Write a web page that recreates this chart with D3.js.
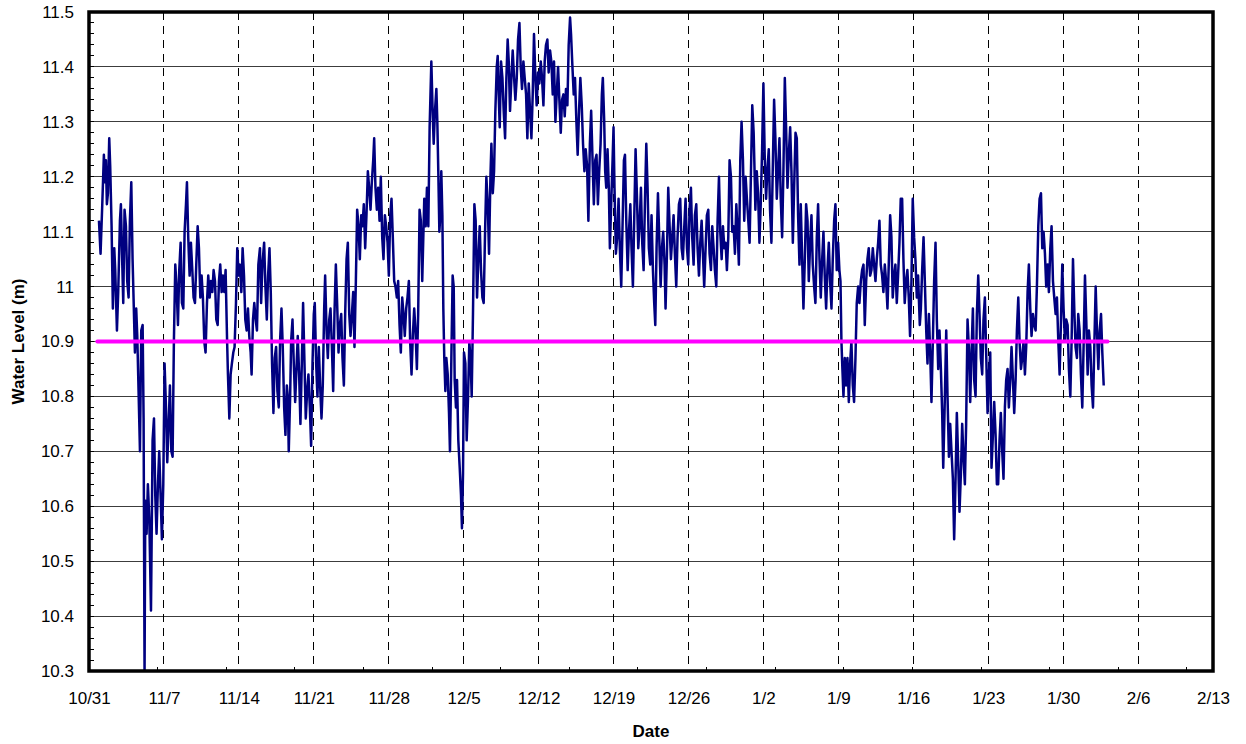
<!DOCTYPE html>
<html>
<head>
<meta charset="utf-8">
<script src="https://cdn.jsdelivr.net/npm/d3@7"></script>
<style>
  body { margin: 0; background: #fff; }
  svg { display: block; }
  text { font-family: Arial, "Liberation Sans", sans-serif; fill: #000; }
</style>
</head>
<body>
<svg id="chart" width="1246" height="744"></svg>
<script>
// Weekly date labels along the x axis (days since 10/31)
const dateLabels = ["10/31", "11/7", "11/14", "11/21", "11/28", "12/5", "12/12",
  "12/19", "12/26", "1/2", "1/9", "1/16", "1/23", "1/30", "2/6", "2/13"];
const dayTicks = dateLabels.map((d, i) => i * 7);

// Water level axis ticks
const levelTicks = [10.3, 10.4, 10.5, 10.6, 10.7, 10.8, 10.9, 11.0, 11.1, 11.2, 11.3, 11.4, 11.5];
const levelLabels = ["10.3", "10.4", "10.5", "10.6", "10.7", "10.8", "10.9", "11", "11.1", "11.2", "11.3", "11.4", "11.5"];

// Reference level and the period it covers (days since 10/31)
const referenceLevel = 10.9;
const referenceSpan = [0.78, 95.15];

// Recorded water level: time in days since 10/31, level in metres
const dayOffset = [
  0.93, 1.08, 1.24, 1.39, 1.49, 1.58, 1.67, 1.77, 1.89, 1.98, 2.11, 2.23, 2.36, 2.45, 2.61, 2.73, 2.89, 2.98, 3.11, 3.20,
  3.32, 3.45, 3.57, 3.70, 3.82, 3.95, 4.07, 4.20, 4.29, 4.41, 4.51, 4.63, 4.76, 4.88, 5.01, 5.10, 5.19, 5.26, 5.38, 5.50,
  5.63, 5.79, 5.94, 6.07, 6.19, 6.31, 6.44, 6.56, 6.69, 6.81, 6.94, 7.06, 7.19, 7.31, 7.44, 7.56, 7.69, 7.81, 7.93, 8.06,
  8.18, 8.31, 8.43, 8.56, 8.68, 8.81, 8.93, 9.06, 9.15, 9.27, 9.40, 9.52, 9.65, 9.77, 9.90, 10.02, 10.15, 10.27, 10.40, 10.52,
  10.64, 10.77, 10.89, 11.02, 11.14, 11.27, 11.39, 11.52, 11.64, 11.77, 11.89, 12.02, 12.14, 12.26, 12.39, 12.51, 12.64, 12.76, 12.89, 12.98,
  13.11, 13.23, 13.35, 13.48, 13.60, 13.73, 13.85, 13.98, 14.10, 14.23, 14.35, 14.48, 14.60, 14.73, 14.85, 14.97, 15.10, 15.19, 15.32, 15.44,
  15.57, 15.69, 15.82, 15.97,
  16.08, 16.20, 16.36, 16.48, 16.61, 16.73, 16.86, 16.98, 17.10, 17.23, 17.35, 17.48, 17.60, 17.73, 17.85, 17.98, 18.10, 18.23, 18.35, 18.48,
  18.57, 18.66, 18.79, 18.88, 19.01, 19.13, 19.26, 19.38, 19.50, 19.63, 19.75, 19.88, 20.00, 20.13, 20.25, 20.38, 20.50, 20.63, 20.75, 20.88,
  21.00, 21.09, 21.22, 21.34, 21.47, 21.59, 21.72, 21.84, 21.97, 22.06, 22.19, 22.31, 22.44, 22.56, 22.69, 22.81, 22.93, 23.06, 23.18, 23.31,
  23.43, 23.56, 23.68, 23.81, 23.93, 24.06, 24.18, 24.31, 24.43, 24.56, 24.68, 24.80, 24.93, 25.05, 25.18, 25.30, 25.43, 25.55, 25.67, 25.80,
  25.92, 26.05, 26.17, 26.30, 26.42, 26.55, 26.64, 26.76, 26.89, 27.01, 27.14, 27.26, 27.39, 27.51, 27.64, 27.76, 27.89, 28.01, 28.14, 28.26,
  28.38, 28.51, 28.63, 28.76, 28.88, 29.01, 29.13, 29.26, 29.38, 29.50, 29.63, 29.75, 29.88, 30.00, 30.13, 30.25, 30.38, 30.50, 30.63, 30.75,
  30.88, 31.00, 31.13,
  31.32, 31.45, 31.57, 31.70, 31.82, 31.98, 32.10, 32.20, 32.32, 32.45, 32.54, 32.63, 32.73, 32.82, 32.91, 33.01, 33.10, 33.19, 33.29, 33.38,
  33.51, 33.63, 33.72, 33.85, 33.97, 34.07, 34.16, 34.28, 34.38, 34.50, 34.63, 34.75, 34.84, 34.94, 35.03, 35.16, 35.28, 35.41, 35.53, 35.66,
  35.75, 35.87, 36.00, 36.12, 36.25, 36.37, 36.50, 36.62, 36.75, 36.87, 37.00, 37.12, 37.25, 37.37, 37.50, 37.59, 37.72, 37.84, 37.96, 38.09,
  38.18, 38.27, 38.37, 38.49, 38.62, 38.74, 38.87, 38.99, 39.11, 39.21, 39.33, 39.46, 39.58, 39.71, 39.83, 39.96, 40.08, 40.21, 40.33, 40.45,
  40.58, 40.70, 40.83, 40.95, 41.08, 41.20, 41.33, 41.45, 41.57, 41.70, 41.82, 41.95, 42.07, 42.20, 42.32, 42.45, 42.57, 42.69, 42.82, 42.94,
  43.07, 43.19, 43.32, 43.44, 43.57, 43.69, 43.82, 43.94, 44.07, 44.19, 44.32, 44.44, 44.56, 44.69, 44.81, 44.94, 45.03, 45.16, 45.28, 45.40,
  45.53, 45.65, 45.78, 45.90, 46.03, 46.15, 46.28, 46.40, 46.53, 46.65,
  46.79, 46.91, 47.04, 47.16, 47.29, 47.41, 47.54, 47.66, 47.79, 47.91, 48.00, 48.13, 48.22, 48.32, 48.44, 48.56, 48.66, 48.78, 48.91, 49.00,
  49.09, 49.22, 49.34, 49.47, 49.59, 49.72, 49.84, 49.97, 50.07, 50.19, 50.32, 50.44, 50.57, 50.68, 50.81, 50.93, 51.06, 51.18, 51.31, 51.43,
  51.56, 51.68, 51.81, 51.93, 52.06, 52.18, 52.30, 52.43, 52.55, 52.68, 52.80, 52.90, 53.02, 53.15, 53.27, 53.40, 53.52, 53.64, 53.77, 53.86,
  53.99, 54.11, 54.24, 54.36, 54.49, 54.61, 54.73, 54.86, 54.98, 55.11, 55.23, 55.36, 55.48, 55.61, 55.73, 55.86, 55.98, 56.10, 56.23, 56.35,
  56.48, 56.60, 56.73, 56.85, 56.98, 57.10, 57.23, 57.35, 57.47, 57.60, 57.72, 57.85, 57.97, 58.10, 58.22, 58.35, 58.47, 58.60, 58.72, 58.85,
  58.97, 59.10, 59.22, 59.35, 59.47, 59.59, 59.72, 59.84, 59.97, 60.09, 60.22, 60.34, 60.47, 60.59, 60.71, 60.84, 60.96, 61.09, 61.21, 61.34,
  61.46, 61.59, 61.71, 61.84, 61.96, 62.09, 62.21,
  62.25, 62.38, 62.50, 62.63, 62.75, 62.88, 63.00, 63.12, 63.25, 63.37, 63.50, 63.62, 63.75, 63.87, 64.00, 64.12, 64.25, 64.37, 64.50, 64.62,
  64.75, 64.87, 65.00, 65.12, 65.25, 65.37, 65.50, 65.62, 65.75, 65.87, 66.00, 66.12, 66.24, 66.37, 66.49, 66.62, 66.74, 66.87, 66.99, 67.12,
  67.24, 67.37, 67.49, 67.61, 67.74, 67.86, 67.99, 68.11, 68.24, 68.36, 68.49, 68.61, 68.73, 68.86, 68.98, 69.11, 69.23, 69.36, 69.48, 69.61,
  69.73, 69.85, 69.98, 70.10, 70.20, 70.29, 70.38, 70.48, 70.60, 70.73, 70.85, 70.98, 71.10, 71.22, 71.35, 71.47, 71.60, 71.72, 71.85, 71.97,
  72.10, 72.22, 72.35, 72.47, 72.60, 72.72, 72.84, 72.97, 73.09, 73.22, 73.34, 73.47, 73.59, 73.72, 73.84, 73.96, 74.09, 74.21, 74.34, 74.46,
  74.59, 74.71, 74.84, 74.96, 75.08, 75.21, 75.33, 75.46, 75.58, 75.71, 75.83, 75.96, 76.08, 76.20, 76.33, 76.45, 76.58, 76.70, 76.83, 76.95,
  77.08, 77.20, 77.33, 77.45, 77.61,
  77.71, 77.83, 77.96, 78.08, 78.21, 78.33, 78.46, 78.58, 78.70, 78.83, 78.95, 79.08, 79.20, 79.33, 79.45, 79.58, 79.70, 79.80, 79.92, 80.08,
  80.20, 80.33, 80.45, 80.57, 80.70, 80.82, 80.95, 81.07, 81.20, 81.32, 81.45, 81.57, 81.69, 81.82, 81.94, 82.07, 82.19, 82.32, 82.44, 82.57,
  82.69, 82.82, 82.94, 83.07, 83.19, 83.31, 83.44, 83.56, 83.69, 83.81, 83.94, 84.06, 84.19, 84.31, 84.44, 84.56, 84.69, 84.81, 84.93, 85.06,
  85.18, 85.31, 85.43, 85.56, 85.68, 85.81, 85.93, 86.06, 86.18, 86.31, 86.43, 86.56, 86.68, 86.81, 86.93, 87.06, 87.18, 87.30, 87.43, 87.55,
  87.68, 87.80, 87.93, 88.05, 88.18, 88.30, 88.43, 88.55, 88.68, 88.80, 88.93, 89.05, 89.17, 89.30, 89.42, 89.55, 89.67, 89.80, 89.92, 90.05,
  90.17, 90.30, 90.42, 90.55, 90.67, 90.79, 90.92, 91.04, 91.17, 91.29, 91.42, 91.54, 91.67, 91.79, 91.92, 92.04, 92.16, 92.29, 92.41, 92.54,
  92.66, 92.79, 92.91, 93.04, 93.16, 93.29, 93.41, 93.54, 93.66, 93.79, 93.91, 94.04, 94.16, 94.29, 94.41, 94.54, 94.66, 94.79
];

const level = [
  11.12, 11.06, 11.15, 11.24, 11.19, 11.23, 11.15, 11.17, 11.27, 11.22, 11.11, 10.96, 11.07, 11.03, 10.92, 10.99, 11.12, 11.15, 11.04, 10.97,
  11.14, 11.11, 11.01, 10.98, 11.12, 11.19, 11.05, 10.95, 10.88, 10.96, 10.91, 10.81, 10.70, 10.92, 10.93, 10.76, 10.30, 10.61, 10.55, 10.64,
  10.58, 10.41, 10.72, 10.76, 10.62, 10.55, 10.64, 10.70, 10.62, 10.54, 10.64, 10.86, 10.78, 10.68, 10.75, 10.82, 10.70, 10.69, 10.90, 11.04,
  11.00, 10.93, 11.03, 11.08, 10.97, 10.96, 11.10, 11.15, 11.19, 11.09, 11.02, 11.08, 11.03, 10.98, 10.97, 11.04, 11.11, 11.07, 10.98, 11.02,
  10.98, 10.90, 10.88, 10.97, 11.02, 10.98, 11.01, 10.99, 11.03, 11.01, 10.94, 10.93, 11.01, 11.04, 10.99, 11.02, 10.99, 11.03, 10.91, 10.84,
  10.76, 10.84, 10.86, 10.88, 10.89, 10.97, 11.07, 11.02, 11.04, 10.99, 11.07, 11.02, 10.94, 10.92, 10.96, 10.91, 10.88, 10.84, 10.94, 10.97,
  10.94, 10.92, 11.04, 11.07,
  10.97, 11.04, 11.08, 11.00, 10.94, 11.02, 11.07, 10.99, 10.86, 10.77, 10.87, 10.89, 10.81, 10.78, 10.90, 10.96, 10.89, 10.78, 10.73, 10.82,
  10.80, 10.70, 10.80, 10.90, 10.94, 10.86, 10.79, 10.85, 10.91, 10.84, 10.75, 10.86, 10.97, 10.86, 10.76, 10.81, 10.84, 10.78, 10.71, 10.86,
  10.95, 10.97, 10.86, 10.80, 10.89, 10.82, 10.76, 10.82, 10.96, 11.02, 10.92, 10.87, 10.94, 10.96, 10.89, 10.81, 10.95, 11.04, 10.97, 10.88,
  10.93, 10.95, 10.87, 10.82, 10.95, 11.05, 11.08, 10.95, 10.91, 10.95, 10.99, 10.89, 11.01, 11.14, 11.11, 11.05, 11.13, 11.11, 11.15, 11.07,
  11.13, 11.21, 11.18, 11.14, 11.19, 11.23, 11.27, 11.18, 11.14, 11.18, 11.12, 11.20, 11.09, 11.05, 11.13, 11.11, 11.08, 11.02, 11.13, 11.16,
  11.09, 11.01, 11.00, 10.98, 11.01, 10.93, 10.88, 10.98, 10.95, 10.91, 10.96, 10.98, 11.01, 10.90, 10.84, 10.91, 10.96, 10.92, 10.85, 10.95,
  11.14, 11.12, 11.01,
  11.16, 11.11, 11.18, 11.11, 11.29, 11.41, 11.32, 11.26, 11.32, 11.36, 11.30, 11.21, 11.10, 11.13, 11.21, 11.13, 10.96, 10.87, 10.81, 10.87,
  10.84, 10.77, 10.70, 10.87, 11.02, 11.00, 10.83, 10.78, 10.83, 10.72, 10.67, 10.62, 10.56, 10.66, 10.88, 10.86, 10.72, 10.80, 10.90, 10.86,
  10.80, 10.95, 11.15, 11.12, 10.98, 11.05, 11.11, 11.03, 10.98, 10.97, 11.10, 11.20, 11.15, 11.06, 11.20, 11.26, 11.17, 11.21, 11.32, 11.40,
  11.42, 11.35, 11.29, 11.41, 11.38, 11.32, 11.27, 11.38, 11.45, 11.41, 11.32, 11.38, 11.43, 11.38, 11.34, 11.38, 11.45, 11.48, 11.40, 11.36,
  11.41, 11.38, 11.35, 11.27, 11.37, 11.32, 11.27, 11.35, 11.46, 11.38, 11.33, 11.39, 11.37, 11.41, 11.38, 11.33, 11.41, 11.44, 11.45, 11.39,
  11.43, 11.41, 11.35, 11.41, 11.30, 11.35, 11.40, 11.34, 11.28, 11.34, 11.35, 11.31, 11.36, 11.33, 11.44, 11.49, 11.46, 11.40, 11.35, 11.38,
  11.30, 11.24, 11.32, 11.38, 11.33, 11.26, 11.21, 11.25, 11.22, 11.12,
  11.26, 11.32, 11.23, 11.15, 11.23, 11.24, 11.15, 11.21, 11.26, 11.35, 11.38, 11.30, 11.21, 11.18, 11.25, 11.18, 11.07, 11.15, 11.23, 11.29,
  11.18, 11.06, 11.09, 11.16, 11.07, 11.00, 11.11, 11.23, 11.24, 11.12, 11.03, 11.10, 11.15, 11.07, 11.00, 11.12, 11.25, 11.17, 11.07, 11.11,
  11.18, 11.08, 11.03, 11.15, 11.26, 11.18, 11.07, 11.04, 11.13, 11.03, 10.97, 10.93, 11.07, 11.17, 11.09, 11.00, 11.07, 11.10, 11.04, 10.96,
  11.06, 11.18, 11.11, 11.05, 11.09, 11.13, 11.06, 11.00, 11.09, 11.15, 11.16, 11.07, 11.05, 11.11, 11.16, 11.07, 11.04, 11.14, 11.18, 11.09,
  11.04, 11.13, 11.15, 11.07, 11.02, 11.08, 11.12, 11.06, 11.00, 11.07, 11.13, 11.14, 11.06, 11.03, 11.11, 11.07, 11.03, 11.00, 11.12, 11.20,
  11.10, 11.05, 11.11, 11.07, 11.08, 11.03, 11.09, 11.23, 11.20, 11.10, 11.11, 11.06, 11.15, 11.10, 11.04, 11.23, 11.30, 11.23, 11.12, 11.20,
  11.16, 11.12, 11.08, 11.21, 11.33, 11.28, 11.18,
  11.14, 11.21, 11.17, 11.08, 11.15, 11.25, 11.37, 11.24, 11.16, 11.21, 11.25, 11.14, 11.08, 11.21, 11.34, 11.27, 11.16, 11.21, 11.27, 11.16,
  11.09, 11.21, 11.38, 11.29, 11.18, 11.24, 11.29, 11.21, 11.08, 11.18, 11.28, 11.27, 11.13, 11.04, 11.15, 11.05, 10.96, 11.05, 11.15, 11.12,
  11.01, 11.08, 11.13, 11.04, 11.00, 10.97, 11.09, 11.15, 11.05, 10.98, 11.05, 11.10, 11.02, 10.96, 11.03, 11.08, 11.01, 10.96, 11.05, 11.12,
  11.15, 11.03, 11.08, 11.03, 11.01, 10.90, 10.85, 10.80, 10.87, 10.82, 10.87, 10.79, 10.86, 10.90, 10.82, 10.79, 10.87, 10.97, 11.00, 10.97,
  11.01, 11.03, 11.04, 10.93, 11.01, 11.05, 11.07, 11.02, 11.03, 11.07, 11.04, 11.01, 11.05, 11.08, 11.12, 11.04, 11.02, 10.99, 11.04, 11.01,
  10.96, 11.04, 11.13, 11.09, 10.98, 11.02, 11.04, 10.97, 11.02, 11.08, 11.16, 11.16, 11.05, 10.97, 11.01, 11.03, 10.98, 10.91, 11.01, 11.16,
  11.09, 11.05, 10.98, 11.02, 10.93,
  10.96, 11.03, 11.09, 11.01, 10.92, 10.86, 10.95, 10.88, 10.79, 10.90, 11.01, 11.08, 10.94, 10.85, 10.92, 10.85, 10.77, 10.67, 10.77, 10.92,
  10.80, 10.69, 10.75, 10.70, 10.65, 10.54, 10.65, 10.77, 10.68, 10.59, 10.66, 10.75, 10.69, 10.64, 10.75, 10.94, 10.89, 10.79, 10.88, 10.96,
  10.83, 10.80, 10.95, 11.02, 10.95, 10.87, 10.84, 10.94, 10.98, 10.88, 10.77, 10.84, 10.88, 10.67, 10.73, 10.79, 10.73, 10.64, 10.64, 10.72,
  10.77, 10.70, 10.65, 10.78, 10.83, 10.85, 10.78, 10.83, 10.89, 10.83, 10.77, 10.83, 10.92, 10.98, 10.90, 10.85, 10.87, 10.90, 10.84, 10.89,
  10.99, 11.04, 10.96, 10.91, 10.95, 10.93, 10.92, 11.00, 11.11, 11.16, 11.17, 11.07, 11.10, 11.06, 11.00, 11.04, 10.99, 11.07, 11.11, 11.01,
  10.98, 10.95, 10.98, 10.90, 10.84, 10.93, 11.04, 10.96, 10.90, 10.94, 10.93, 10.85, 10.80, 10.90, 11.05, 10.96, 10.89, 10.87, 10.95, 10.92,
  10.84, 10.78, 10.89, 11.02, 10.94, 10.84, 10.92, 10.89, 10.82, 10.78, 10.89, 11.00, 10.92, 10.85, 10.92, 10.95, 10.88, 10.82
];

const W = 1246, H = 744;
const margin = { top: 12, right: 33, bottom: 73, left: 89 };
const plotLeft = margin.left, plotRight = W - margin.right;
const plotTop = margin.top, plotBottom = H - margin.bottom;

const x = d3.scaleLinear().domain([0, 105]).range([plotLeft, plotRight]);
const y = d3.scaleLinear().domain([10.3, 11.5]).range([plotBottom, plotTop]);

const svg = d3.select("#chart");

// Horizontal gridlines at every 0.1 m
svg.append("g")
  .attr("shape-rendering", "crispEdges")
  .selectAll("line")
  .data(levelTicks.slice(1, -1))
  .join("line")
  .attr("x1", plotLeft).attr("x2", plotRight)
  .attr("y1", d => y(d)).attr("y2", d => y(d))
  .attr("stroke", "#3c3c3c")
  .attr("stroke-width", 1);

// Weekly dashed gridlines
svg.append("g")
  .attr("shape-rendering", "crispEdges")
  .selectAll("line")
  .data(dayTicks.slice(1, -1))
  .join("line")
  .attr("x1", d => x(d)).attr("x2", d => x(d))
  .attr("y1", plotTop).attr("y2", plotBottom)
  .attr("stroke", "#000")
  .attr("stroke-width", 1)
  .attr("stroke-dasharray", "8,6");

// Clip the series to the plotting area
svg.append("defs").append("clipPath").attr("id", "plot-clip")
  .append("rect").attr("x", plotLeft).attr("y", plotTop)
  .attr("width", plotRight - plotLeft).attr("height", plotBottom - plotTop);

const n = Math.min(dayOffset.length, level.length);
const series = d3.range(n).map(i => ({ day: dayOffset[i], value: level[i] }));
const line = d3.line().x(d => x(d.day)).y(d => y(d.value));

svg.append("path")
  .datum(series)
  .attr("clip-path", "url(#plot-clip)")
  .attr("fill", "none")
  .attr("stroke", "#000080")
  .attr("stroke-width", 2.5)
  .attr("stroke-linejoin", "round")
  .attr("d", line);

// Reference level line
svg.append("line")
  .attr("x1", x(referenceSpan[0])).attr("x2", x(referenceSpan[1]))
  .attr("y1", y(referenceLevel)).attr("y2", y(referenceLevel))
  .attr("stroke", "#ff00ff")
  .attr("stroke-width", 4)
  .attr("stroke-linecap", "round");

// Minor ticks on the inside of the left axis, every 0.02 m
const minorLevels = d3.range(0, 61).map(i => 10.3 + i * 0.02);
svg.append("g")
  .attr("shape-rendering", "crispEdges")
  .selectAll("line")
  .data(minorLevels)
  .join("line")
  .attr("x1", plotLeft).attr("x2", plotLeft + 5)
  .attr("y1", d => y(d)).attr("y2", d => y(d))
  .attr("stroke", "#000");

// Small tick marks along the bottom axis
const minorDays = d3.range(1, 17).map(i => i * 6.41);
svg.append("g")
  .attr("shape-rendering", "crispEdges")
  .selectAll("line")
  .data(minorDays)
  .join("line")
  .attr("x1", d => x(d)).attr("x2", d => x(d))
  .attr("y1", plotBottom).attr("y2", plotBottom - 4)
  .attr("stroke", "#000");

// Plot frame
svg.append("rect")
  .attr("x", plotLeft).attr("y", plotTop)
  .attr("width", plotRight - plotLeft).attr("height", plotBottom - plotTop)
  .attr("fill", "none")
  .attr("stroke", "#000")
  .attr("stroke-width", 3.5);

// Axis labels
const yAxis = d3.axisLeft(y)
  .tickValues(levelTicks)
  .tickFormat((d, i) => levelLabels[i])
  .tickSize(0)
  .tickPadding(15);
const gy = svg.append("g").attr("transform", `translate(${plotLeft},0)`).call(yAxis);
gy.select(".domain").remove();
gy.selectAll("text").attr("font-size", 17).attr("font-family", "Arial, 'Liberation Sans', sans-serif");

const xAxis = d3.axisBottom(x)
  .tickValues(dayTicks)
  .tickFormat((d, i) => dateLabels[i])
  .tickSize(0)
  .tickPadding(21);
const gx = svg.append("g").attr("transform", `translate(0,${plotBottom})`).call(xAxis);
gx.select(".domain").remove();
gx.selectAll("text").attr("font-size", 17).attr("font-family", "Arial, 'Liberation Sans', sans-serif");

// Axis titles
svg.append("text")
  .attr("x", (plotLeft + plotRight) / 2)
  .attr("y", 737)
  .attr("text-anchor", "middle")
  .attr("font-size", 17)
  .attr("font-weight", "bold")
  .text("Date");

svg.append("text")
  .attr("transform", `translate(24,${(plotTop + plotBottom) / 2}) rotate(-90)`)
  .attr("text-anchor", "middle")
  .attr("font-size", 17)
  .attr("font-weight", "bold")
  .text("Water Level (m)");
</script>
</body>
</html>
